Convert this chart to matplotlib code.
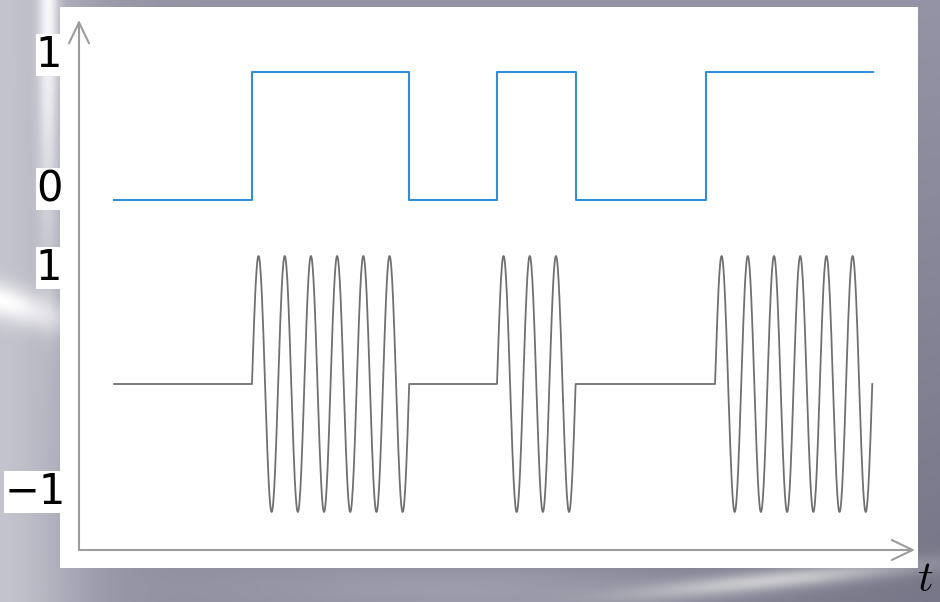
import numpy as np
import matplotlib
matplotlib.use("Agg")
import matplotlib.pyplot as plt
from matplotlib.patches import Rectangle

# ---------------- data (time in carrier periods) ----------------
signal_start = 1.34
digital_edges = [6.60, 12.60, 15.95, 18.97, 23.93]   # level toggles 0->1->0->...
signal_end = 30.31
burst_starts = [6.60, 15.95, 24.27]
burst_cycles = [6, 3, 6]
analog_end = 30.27
digital_offset = 1.4375          # vertical shift of the binary trace
label_texts = ["1", "0", "1", "\u22121"]
label_y = [2.57, 1.52, 0.91, -0.84]
xmax = 31.9
ymin, ymax = -1.297, 2.844

W, H, DPI = 940, 602, 100
fig = plt.figure(figsize=(W / DPI, H / DPI), dpi=DPI)

# ---------------- metallic background ----------------
bg = fig.add_axes([0, 0, 1, 1])
yy, xx = np.mgrid[0:H, 0:W].astype(float)
base = np.array([0.58, 0.58, 0.65])
light = np.zeros((H, W))
light += 0.28 * np.exp(-((xx - 48) / 10) ** 2) * np.exp(-(yy / 220) ** 2)
light += 0.20 * np.exp(-(xx / 80) ** 2)
light += 0.25 * np.exp(-((yy - 300 - 0.3 * xx) / 18) ** 2) * np.exp(-(xx / 70) ** 2)
light += 0.30 * np.exp(-((yy - 582 + (xx - 750) * 0.10) / 10) ** 2) * np.exp(-((xx - 780) / 140) ** 2)
light += 0.10 * np.exp(-((yy - 590) / 30) ** 2) * np.exp(-((xx - 500) / 250) ** 2)
dark = 0.12 * (yy / H) * (xx / W)
img = np.clip(base[None, None, :] + light[..., None] * (1 - base)[None, None, :] / 0.45 - dark[..., None], 0, 1)
bg.imshow(img, extent=[0, W, H, 0], aspect="auto", interpolation="bilinear")
bg.add_patch(Rectangle((60, 7), 858, 561, facecolor="white", edgecolor="none"))
bg.set_xlim(0, W)
bg.set_ylim(H, 0)
bg.axis("off")

# ---------------- main axes ----------------
x0, x1, ytop, ybot = 79, 915, 20, 550
ax = fig.add_axes([x0 / W, 1 - ybot / H, (x1 - x0) / W, (ybot - ytop) / H])
ax.patch.set_alpha(0)
ax.set_xlim(0, xmax)
ax.set_ylim(ymin, ymax)
for s in ax.spines.values():
    s.set_visible(False)
ax.set_xticks([])
ax.set_yticks([])

axis_col = "#9c9c9c"
ap = dict(arrowstyle="->,head_length=0.75,head_width=0.36", color=axis_col, lw=1.5,
          mutation_scale=20, shrinkA=0, shrinkB=0)
ax.annotate("", xy=(0, 1), xytext=(0, 0), xycoords="axes fraction", arrowprops=ap)
ax.annotate("", xy=(1, 0), xytext=(0, 0), xycoords="axes fraction", arrowprops=ap)

# binary signal
xs = [signal_start] + digital_edges + [signal_end]
levels = [(i % 2) for i in range(len(xs) - 1)] + [len(digital_edges) % 2]
ax.step(xs, np.array(levels) + digital_offset, where="post", color="#2f8fdc", lw=1.5)

# modulated signal
ts = [signal_start]
vs = [0.0]
for st, nc in zip(burst_starts, burst_cycles):
    t = np.linspace(st, st + nc, nc * 60 + 1)
    ts.extend([st]); vs.extend([0.0])
    ts.extend(t); vs.extend(np.sin(2 * np.pi * (t - st)))
    ts.extend([st + nc]); vs.extend([0.0])
ts = np.array(ts); vs = np.array(vs)
keep = ts <= analog_end + 1e-9
ax.plot(ts[keep], vs[keep], color="#707070", lw=1.3)

# y labels
label_x = [-0.02, -0.02, -0.02, -0.016]
for txt, yv, lx in zip(label_texts, label_y, label_x):
    ax.text(lx, yv, txt, transform=ax.get_yaxis_transform(), ha="right", va="center",
            fontsize=30, color="black", clip_on=False,
            bbox=dict(facecolor="white", edgecolor="none", pad=0))

# t label
fig.text(917 / W, 1 - 600 / H, r"$t$", fontsize=31, ha="left", va="bottom",
         math_fontfamily="cm", color="black")

fig.savefig("out.png", dpi=DPI)
